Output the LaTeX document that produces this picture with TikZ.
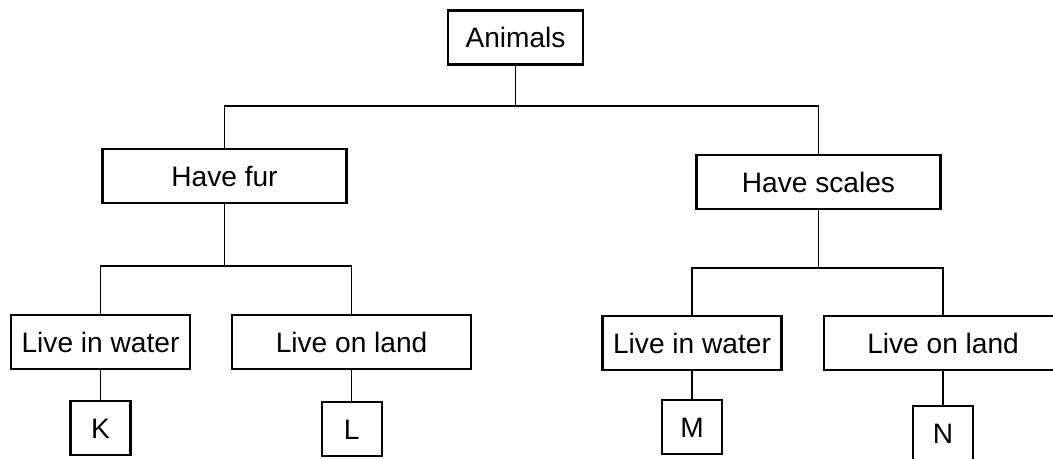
\documentclass[tikz,border=0pt]{standalone}
\usepackage{fontspec}
\setmainfont{Liberation Sans}
\usetikzlibrary{positioning}

\begin{document}
\begin{tikzpicture}[
box/.style={
	rectangle,
	draw,
	line width=1.2pt,
	align=center,
	inner sep=2pt,
	minimum height=1.08cm,
	font=\fontsize{16}{19}\selectfont
},
rootbox/.style={box, minimum width=2.7cm},
groupbox/.style={box, minimum width=4.88cm},
waterbox/.style={box, minimum width=3.58cm},
landbox/.style={box, minimum width=4.78cm},
letterbox/.style={box, minimum width=1.2cm},
link/.style={line width=1pt}
]

\useasboundingbox (0,0) rectangle (21.06,-9.18);

\node[rootbox] (animals) at (10.31,-0.75) {Animals};

\node[groupbox, below=1.65cm of animals, xshift=-5.82cm] (fur) {Have fur};
\node[groupbox, below=1.77cm of animals, xshift=6.06cm] (scales) {Have scales};

\node[waterbox, below=2.2cm of fur, xshift=-2.48cm] (furwater) {Live in water};
\node[landbox, right=0.8cm of furwater] (furland) {Live on land};

\node[waterbox, below=2.1cm of scales, xshift=-2.53cm] (scaleswater) {Live in water};
\node[landbox, right=0.8cm of scaleswater] (scalesland) {Live on land};

\node[letterbox, below=0.6cm of furwater] (k) {K};
\node[letterbox, below=0.62cm of furland] (l) {L};
\node[letterbox, below=0.56cm of scaleswater] (m) {M};
\node[letterbox, below=0.68cm of scalesland] (n) {N};

\coordinate (rootfork) at ([yshift=-0.81cm]animals.south);
\coordinate (furfork) at ([yshift=-1.24cm]fur.south);
\coordinate (scalesfork) at ([yshift=-1.16cm]scales.south);

\draw[link] (animals.south) -- (rootfork);
\draw[link] (fur.north) |- (rootfork) -| (scales.north);

\draw[link] (fur.south) -- (furfork);
\draw[link] (furwater.north) |- (furfork) -| (furland.north);

\draw[link] (scales.south) -- (scalesfork);
\draw[link] (scaleswater.north) |- (scalesfork) -| (scalesland.north);

\draw[link] (furwater) -- (k);
\draw[link] (furland) -- (l);
\draw[link] (scaleswater) -- (m);
\draw[link] (scalesland) -- (n);

\end{tikzpicture}
\end{document}
